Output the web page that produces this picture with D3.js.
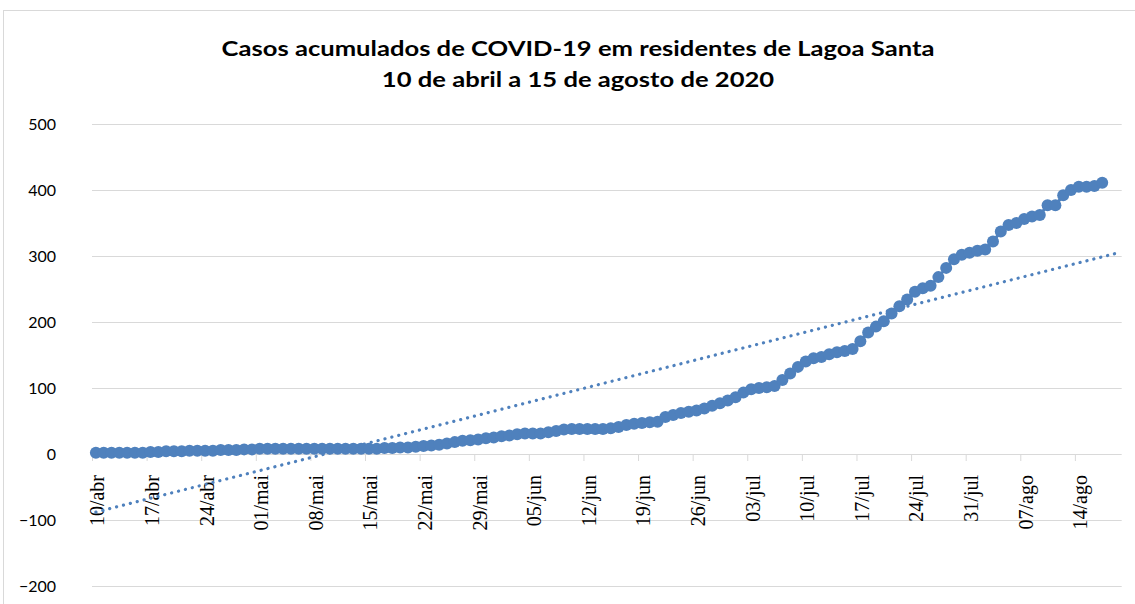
<!DOCTYPE html>
<html>
<head>
<meta charset="utf-8">
<script src="https://cdn.jsdelivr.net/npm/d3@7"></script>
<style>
  html, body { margin: 0; padding: 0; background: #fff; }
  svg { display: block; }
</style>
</head>
<body>
<svg id="chart" width="1135" height="604"></svg>
<script>
// casos acumulados, um valor por dia a partir de 10/abr
const casos = [
  2, 2, 2, 2, 2, 2, 2,
  3, 3, 4, 4, 4, 5, 5,
  5, 5, 6, 6, 6, 7, 7,
  8, 8, 8, 8, 8, 8, 8,
  8, 8, 8, 8, 8, 8, 8,
  8, 8, 9, 9, 10, 10, 11,
  12, 13, 14, 16, 18, 20, 21,
  22, 24, 25, 27, 28, 30, 31,
  31, 31, 33, 35, 37, 38, 38,
  38, 38, 38, 39, 41, 44, 46,
  47, 48, 49, 56, 59, 62, 64,
  66, 69, 73, 77, 81, 86, 93,
  98, 100, 101, 103, 112, 122, 132,
  140, 145, 147, 151, 154, 156, 159,
  171, 184, 193, 201, 213, 224, 234,
  246, 251, 255, 268, 282, 295, 302,
  305, 308, 310, 322, 337, 347, 350,
  356, 360, 362, 377, 377, 392, 400,
  405, 405, 406, 411
];
const nDias = 132; // categorias no eixo (10/abr a 19/ago)
const rotulosX = ["10/abr", "17/abr", "24/abr", "01/mai", "08/mai", "15/mai", "22/mai",
  "29/mai", "05/jun", "12/jun", "19/jun", "26/jun", "03/jul", "10/jul", "17/jul",
  "24/jul", "31/jul", "07/ago", "14/ago"];
const ticksY = [-200, -100, 0, 100, 200, 300, 400, 500];
const titulo = ["Casos acumulados  de COVID-19 em residentes de Lagoa Santa",
  "10 de abril a 15 de agosto de 2020"];

const azul = "#4f81bd";
const grade = "#d9d9d9";
const plotL = 92, plotR = 1121.7, plotT = 124, plotB = 586;

const svg = d3.select("#chart");

// borda da área do gráfico
svg.append("rect")
  .attr("x", 3.5).attr("y", 10.5)
  .attr("width", 1200).attr("height", 700)
  .attr("fill", "none").attr("stroke", grade);

const x = d3.scaleLinear().domain([-0.5, nDias - 0.5]).range([plotL, plotR]);
const y = d3.scaleLinear().domain([-200, 500]).range([plotB, plotT]);

// título (a imagem original está esticada na horizontal)
svg.append("g")
  .attr("transform", "translate(578,0) scale(1.28,1)")
  .append("text")
  .attr("x", 0).attr("y", 56)
  .attr("text-anchor", "middle")
  .style("font-family", "Lato, 'Open Sans', sans-serif")
  .style("font-weight", "bold")
  .style("font-size", "20px")
  .attr("fill", "#000")
  .selectAll("tspan")
  .data(titulo)
  .join("tspan")
  .attr("x", 0)
  .attr("dy", (d, i) => i === 0 ? 0 : 31)
  .text(d => d);

// grade horizontal
svg.append("g")
  .attr("transform", `translate(${plotL},0)`)
  .call(d3.axisLeft(y).tickValues(ticksY).tickSize(-(plotR - plotL)).tickFormat(""))
  .call(g => g.select(".domain").remove())
  .call(g => g.selectAll("line").attr("stroke", grade));

// rótulos do eixo Y
svg.append("g")
  .attr("transform", `translate(${plotL},0)`)
  .call(d3.axisLeft(y).tickValues(ticksY).tickSize(0).tickPadding(36))
  .call(g => g.select(".domain").remove())
  .call(g => g.selectAll("text")
    .style("font-family", "Lato, sans-serif")
    .style("font-size", "16px")
    .attr("fill", "#000"));

// eixo X (marcas semanais entre categorias)
const tickPos = rotulosX.map((_, i) => i * 7 - 0.5);
const meiaCat = (x(1) - x(0)) / 2;
svg.append("g")
  .attr("transform", `translate(0,${y(0)})`)
  .call(d3.axisBottom(x).tickValues(tickPos).tickSize(7)
    .tickFormat((d, i) => rotulosX[i]))
  .call(g => g.select(".domain").remove())
  .call(g => g.selectAll("line").attr("stroke", grade))
  .call(g => g.selectAll("text")
    .attr("transform", `translate(${meiaCat + 1},0) rotate(-90)`)
    .attr("x", -21).attr("y", 0).attr("dy", "0.35em")
    .attr("text-anchor", "end")
    .style("font-family", "'Liberation Serif', 'Times New Roman', serif")
    .style("font-size", "20px")
    .attr("fill", "#000"));

// série
const linha = d3.line().x((d, i) => x(i)).y(d => y(d));
svg.append("path")
  .datum(casos)
  .attr("d", linha)
  .attr("fill", "none")
  .attr("stroke", azul)
  .attr("stroke-width", 3);

svg.append("g")
  .selectAll("circle")
  .data(casos)
  .join("circle")
  .attr("cx", (d, i) => x(i))
  .attr("cy", d => y(d))
  .attr("r", 6)
  .attr("fill", azul);

// linha de tendência linear (mínimos quadrados)
const idx = casos.map((d, i) => i);
const mx = d3.mean(idx), my = d3.mean(casos);
const b = d3.sum(idx, i => (i - mx) * (casos[i] - my)) / d3.sum(idx, i => (i - mx) ** 2);
const a = my - b * mx;
const tendencia = [0, nDias - 1].map(i => [i, a + b * i]);
svg.append("path")
  .datum(tendencia)
  .attr("d", d3.line().x(d => x(d[0])).y(d => y(d[1])))
  .attr("fill", "none")
  .attr("stroke", azul)
  .attr("stroke-width", 3.2)
  .attr("stroke-linecap", "round")
  .attr("stroke-dasharray", "0.1 7");
</script>
</body>
</html>
